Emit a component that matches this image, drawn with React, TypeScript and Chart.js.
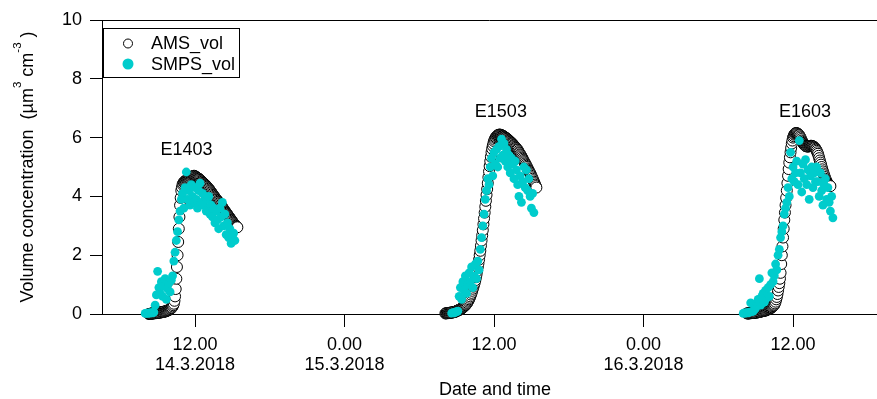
import React, { useEffect, useRef } from "react";
import { Chart, registerables } from "chart.js";

Chart.register(...registerables);

// Time is expressed in hours since 14.3.2018 00:00
const X_MIN = 4.535;
const X_MAX = 66.74;
const TICK_HOURS = [12, 24, 36, 48, 60];
const TICK_TIMES = ["12.00", "0.00", "12.00", "0.00", "12.00"];
const TICK_DATES = ["14.3.2018", "15.3.2018", "", "16.3.2018", ""];

const Y_MIN = 0;
const Y_MAX = 10;
const Y_STEP = 2;

const X_TITLE = "Date and time";
const Y_TITLE_PARTS = [
  { t: "Volume concentration  (µm", sup: false },
  { t: "3", sup: true },
  { t: " cm", sup: false },
  { t: "-3", sup: true },
  { t: " )", sup: false },
];

const EVENT_LABELS = ["E1403", "E1503", "E1603"];
const EVENT_X = [11.32, 36.55, 60.96];
const EVENT_Y = [5.41, 6.71, 6.71];

// AMS volume, sampled every 0.05 h
const AMS_STEP = 0.05;
const AMS_E1_START = 8.3;
const AMS_E1 = [
  0.0, 0.0, 0.01, 0.01, 0.01, 0.02, 0.02, 0.02, 0.02, 0.03, 0.03, 0.03, 0.03, 0.04,
  0.04, 0.04, 0.05, 0.05, 0.05, 0.06, 0.06, 0.06, 0.07, 0.07, 0.08, 0.08, 0.09, 0.09, 0.1, 0.11, 0.12, 0.13, 0.14, 0.15,
  0.17, 0.18, 0.2, 0.22, 0.26, 0.3, 0.35, 0.45, 0.6, 0.85, 1.2, 1.6, 2.0, 2.45, 2.9, 3.3, 3.7, 3.95, 4.2, 4.3,
  4.4, 4.44, 4.48, 4.5, 4.52, 4.53, 4.55, 4.57, 4.58, 4.59, 4.6, 4.61, 4.62, 4.64, 4.65, 4.66, 4.68, 4.69, 4.7, 4.7,
  4.68, 4.67, 4.65, 4.64, 4.62, 4.61, 4.6, 4.58, 4.56, 4.54, 4.52, 4.5, 4.48, 4.46, 4.44, 4.42, 4.4, 4.38, 4.36, 4.33,
  4.31, 4.28, 4.26, 4.23, 4.2, 4.17, 4.14, 4.11, 4.08, 4.05, 4.02, 3.99, 3.96, 3.93, 3.9, 3.88, 3.85, 3.82, 3.8, 3.77,
  3.74, 3.71, 3.68, 3.65, 3.62, 3.59, 3.56, 3.53, 3.5, 3.47, 3.44, 3.41, 3.38, 3.35, 3.32, 3.29, 3.26, 3.23, 3.2, 3.17,
  3.14, 3.11, 3.08, 3.05, 3.02, 3.0, 2.98, 2.96, 2.95,
];
const AMS_E2_START = 32.1;
const AMS_E2 = [
  0.02, 0.02, 0.03, 0.03, 0.03, 0.03, 0.04, 0.04, 0.04, 0.05, 0.05, 0.05, 0.06, 0.06, 0.07, 0.07, 0.08, 0.09,
  0.1, 0.11, 0.12, 0.13, 0.14, 0.15, 0.16, 0.17, 0.19, 0.2, 0.22, 0.24, 0.26, 0.28, 0.3, 0.32, 0.35, 0.38, 0.42, 0.46,
  0.5, 0.55, 0.6, 0.66, 0.72, 0.79, 0.86, 0.93, 1.0, 1.07, 1.15, 1.25, 1.35, 1.47, 1.6, 1.72, 1.85, 2.0, 2.15, 2.32,
  2.5, 2.67, 2.85, 3.05, 3.25, 3.45, 3.65, 3.85, 4.05, 4.25, 4.45, 4.65, 4.85, 5.03, 5.2, 5.35, 5.5, 5.62, 5.72, 5.8,
  5.88, 5.93, 5.98, 6.01, 6.04, 6.06, 6.08, 6.09, 6.1, 6.1, 6.1, 6.09, 6.08, 6.07, 6.06, 6.05, 6.03, 6.02, 6.0, 5.99,
  5.97, 5.96, 5.94, 5.92, 5.9, 5.88, 5.86, 5.84, 5.82, 5.8, 5.78, 5.75, 5.73, 5.7, 5.68, 5.65, 5.63, 5.6, 5.58, 5.54,
  5.5, 5.47, 5.43, 5.4, 5.36, 5.32, 5.28, 5.24, 5.2, 5.16, 5.12, 5.08, 5.04, 5.0, 4.95, 4.91, 4.87, 4.83, 4.79, 4.75,
  4.7, 4.65, 4.6, 4.55, 4.5, 4.45, 4.4, 4.35, 4.3,
];
const AMS_E3_START = 56.3;
const AMS_E3 = [
  0.02, 0.02, 0.02, 0.02, 0.02, 0.03, 0.03, 0.03, 0.03, 0.04, 0.04, 0.04, 0.04, 0.05,
  0.05, 0.05, 0.05, 0.06, 0.06, 0.07, 0.07, 0.08, 0.08, 0.09, 0.09, 0.1, 0.1, 0.11, 0.11, 0.12, 0.12, 0.13, 0.14, 0.15,
  0.16, 0.17, 0.18, 0.19, 0.2, 0.21, 0.23, 0.25, 0.27, 0.29, 0.32, 0.36, 0.42, 0.5, 0.58, 0.68, 0.8, 0.92, 1.05, 1.2,
  1.4, 1.7, 2.0, 2.3, 2.6, 2.9, 3.2, 3.45, 3.7, 3.95, 4.2, 4.45, 4.7, 4.93, 5.15, 5.33, 5.5, 5.65, 5.8, 5.9,
  6.0, 6.05, 6.1, 6.13, 6.15, 6.15, 6.15, 6.14, 6.12, 6.1, 6.08, 6.04, 6.0, 5.95, 5.9, 5.86, 5.82, 5.79, 5.76, 5.74,
  5.72, 5.71, 5.7, 5.7, 5.7, 5.7, 5.71, 5.71, 5.72, 5.72, 5.72, 5.71, 5.7, 5.69, 5.67, 5.65, 5.62, 5.59, 5.55, 5.5,
  5.45, 5.38, 5.3, 5.22, 5.15, 5.08, 5.0, 4.92, 4.85, 4.78, 4.72, 4.66, 4.6, 4.55, 4.5, 4.46, 4.42, 4.4, 4.38, 4.36,
  4.35,
];

// SMPS volume, sampled every 0.1 h
const SMPS_STEP = 0.1;
const SMPS_E1_START = 8.0;
const SMPS_E1 = [
  0.02, 0.03, 0.02, 0.04, 0.03, 0.05, 0.04, 0.06, 0.3, 0.65,
  1.45, 0.9, 0.7, 1.1, 0.6, 0.95, 1.2, 0.5, 0.85, 1.05,
  0.75, 1.15, 1.3, 1.8, 2.1, 2.5, 2.8, 3.2, 3.5, 3.9,
  4.1, 3.6, 4.3, 4.83, 3.9, 4.2, 3.7, 4.4, 4.0, 3.8,
  4.3, 3.9, 3.6, 4.2, 4.45, 3.8, 4.1, 3.7, 4.0, 3.5,
  3.9, 4.0, 3.4, 3.7, 3.3, 3.6, 3.1, 3.5, 3.2, 2.9,
  3.6, 3.3, 3.8, 3.0, 3.4, 2.7, 3.1, 2.6, 2.9, 2.4,
  2.6, 2.75, 2.5,
];
const SMPS_E2_START = 32.6;
const SMPS_E2 = [
  0.03, 0.05, 0.04, 0.06,
  0.08, 0.1, 0.6, 0.9, 0.5, 1.1, 0.8, 1.3, 0.7, 1.0,
  1.4, 1.1, 1.6, 0.9, 1.3, 1.7, 1.2, 1.8, 1.5, 2.2,
  2.6, 3.0, 3.4, 3.9, 4.2, 4.6, 4.4, 5.0, 5.3, 4.7,
  5.5, 5.1, 5.6, 5.0, 5.7, 5.3, 5.95, 5.4, 5.8, 5.2,
  5.6, 5.0, 5.4, 4.8, 5.3, 5.1, 4.6, 5.2, 4.9, 4.4,
  4.0, 4.7, 3.8, 4.5, 5.0, 4.3, 4.9, 4.2, 4.6, 4.0,
  3.6, 4.1, 3.45,
];
const SMPS_E3_START = 56.0;
const SMPS_E3 = [
  0.02, 0.04, 0.03, 0.05, 0.04, 0.06, 0.38, 0.08, 0.1, 0.15,
  0.2, 0.35, 0.5, 1.2, 0.3, 0.6, 0.7, 0.4, 0.8, 0.55,
  0.9, 0.6, 1.0, 1.4, 1.1, 1.3, 1.7, 1.5, 2.0, 2.2,
  2.6, 2.8, 3.0, 3.4, 3.6, 3.8, 4.3, 4.0, 5.5, 4.6,
  5.0, 4.5, 4.8, 5.2, 4.4, 5.9, 4.8, 4.15, 5.1, 4.6,
  5.25, 4.4, 4.9, 3.9, 4.7, 5.0, 4.3, 4.8, 4.5, 5.0,
  4.5, 4.0, 4.8, 4.2, 3.7, 4.4, 4.6, 3.9, 4.3, 3.8,
  3.5, 4.0, 3.27,
];

const AMS_LABEL = "AMS_vol";
const SMPS_LABEL = "SMPS_vol";
const CYAN = "rgb(0,204,204)";
const FONT = '"Liberation Sans", Arial, Helvetica, sans-serif';
const FS = 18;

function toPoints(start: number, step: number, values: number[]) {
  return values.map((v, i) => ({ x: start + i * step, y: v }));
}

const extrasPlugin = {
  id: "extras",
  afterDraw(chart: any) {
    const { ctx, chartArea, scales } = chart;
    const xs = scales.x;
    const ys = scales.y;
    ctx.save();
    ctx.strokeStyle = "#000";
    ctx.fillStyle = "#000";
    ctx.lineWidth = 1;

    // top frame line
    ctx.beginPath();
    ctx.moveTo(chartArea.left, chartArea.top + 0.5);
    ctx.lineTo(chartArea.right, chartArea.top + 0.5);
    ctx.stroke();

    // event labels
    ctx.font = `${FS}px ${FONT}`;
    ctx.textAlign = "center";
    ctx.textBaseline = "alphabetic";
    EVENT_LABELS.forEach((lab, i) => {
      ctx.fillText(lab, xs.getPixelForValue(EVENT_X[i]), ys.getPixelForValue(EVENT_Y[i]));
    });

    // legend
    const lx = chartArea.left + 1;
    const ly = chartArea.top + 8;
    ctx.strokeRect(lx + 0.5, ly + 0.5, 136, 49);
    ctx.beginPath();
    ctx.arc(lx + 25, ly + 15.5, 4.5, 0, Math.PI * 2);
    ctx.fillStyle = "#fff";
    ctx.fill();
    ctx.stroke();
    ctx.beginPath();
    ctx.arc(lx + 25, ly + 36, 5.5, 0, Math.PI * 2);
    ctx.fillStyle = CYAN;
    ctx.fill();
    ctx.fillStyle = "#000";
    ctx.textAlign = "left";
    ctx.fillText(AMS_LABEL, lx + 48, ly + 20.5);
    ctx.fillText(SMPS_LABEL, lx + 48, ly + 42);

    // x title
    ctx.textAlign = "center";
    ctx.fillText(X_TITLE, 495, 395);

    // y title with superscripts
    const normal = `${FS}px ${FONT}`;
    const small = `11.5px ${FONT}`;
    let total = 0;
    Y_TITLE_PARTS.forEach((p) => {
      ctx.font = p.sup ? small : normal;
      total += ctx.measureText(p.t).width;
    });
    ctx.translate(33, (chartArea.top + chartArea.bottom) / 2);
    ctx.rotate(-Math.PI / 2);
    ctx.textAlign = "left";
    let x = -total / 2;
    Y_TITLE_PARTS.forEach((p) => {
      ctx.font = p.sup ? small : normal;
      ctx.fillText(p.t, x, p.sup ? -12.5 : 0);
      x += ctx.measureText(p.t).width;
    });
    ctx.restore();
  },
};

export default function App() {
  const ref = useRef<HTMLCanvasElement>(null);

  useEffect(() => {
    if (!ref.current) return;
    const ams = [
      ...toPoints(AMS_E1_START, AMS_STEP, AMS_E1),
      ...toPoints(AMS_E2_START, AMS_STEP, AMS_E2),
      ...toPoints(AMS_E3_START, AMS_STEP, AMS_E3),
    ];
    const smps = [
      ...toPoints(SMPS_E1_START, SMPS_STEP, SMPS_E1),
      ...toPoints(SMPS_E2_START, SMPS_STEP, SMPS_E2),
      ...toPoints(SMPS_E3_START, SMPS_STEP, SMPS_E3),
    ];
    const chart = new Chart(ref.current, {
      type: "scatter",
      data: {
        datasets: [
          {
            label: AMS_LABEL,
            data: ams,
            pointRadius: 5.5,
            pointBorderWidth: 1,
            pointBorderColor: "#000",
            pointBackgroundColor: "#fff",
            showLine: false,
            clip: false as any,
            order: 2,
          },
          {
            label: SMPS_LABEL,
            data: smps,
            pointRadius: 4.4,
            pointBorderWidth: 0,
            pointBackgroundColor: CYAN,
            pointBorderColor: CYAN,
            showLine: false,
            clip: false as any,
            order: 1,
          },
        ],
      },
      options: {
        animation: false,
        responsive: false,
        devicePixelRatio: 1,
        layout: { autoPadding: false, padding: { top: 20, right: 0, left: 0, bottom: 0 } },
        plugins: {
          legend: { display: false },
          tooltip: { enabled: false },
        },
        scales: {
          x: {
            type: "linear",
            min: X_MIN,
            max: X_MAX,
            position: "bottom",
            grid: { drawOnChartArea: false, drawTicks: true, tickLength: 13, color: "#000", lineWidth: 1 },
            border: { display: true, color: "#000", width: 1 },
            ticks: {
              autoSkip: false,
              maxRotation: 0,
              minRotation: 0,
              padding: 8,
              color: "#000",
              font: { family: FONT, size: FS, lineHeight: 1.13 },
              callback: (value: any) => {
                const i = TICK_HOURS.indexOf(Number(value));
                if (i < 0) return "";
                return TICK_DATES[i] ? [TICK_TIMES[i], TICK_DATES[i]] : TICK_TIMES[i];
              },
            },
            afterBuildTicks: (s: any) => {
              s.ticks = TICK_HOURS.map((v) => ({ value: v }));
            },
            afterFit: (s: any) => {
              s.height = 85;
              s.paddingLeft = 0;
              s.paddingRight = 0;
            },
          },
          y: {
            min: Y_MIN,
            max: Y_MAX,
            grid: { drawOnChartArea: false, drawTicks: true, tickLength: 12, color: "#000", lineWidth: 1 },
            border: { display: true, color: "#000", width: 1 },
            ticks: {
              stepSize: Y_STEP,
              padding: 8,
              color: "#000",
              font: { family: FONT, size: FS },
            },
            afterFit: (s: any) => {
              s.width = 102;
            },
          },
        },
      },
      plugins: [extrasPlugin],
    });
    return () => chart.destroy();
  }, []);

  return (
    <div style={{ position: "absolute", left: 0, top: 0, width: 877, height: 399, background: "#fff" }}>
      <canvas ref={ref} width={877} height={399} style={{ display: "block" }} />
    </div>
  );
}
